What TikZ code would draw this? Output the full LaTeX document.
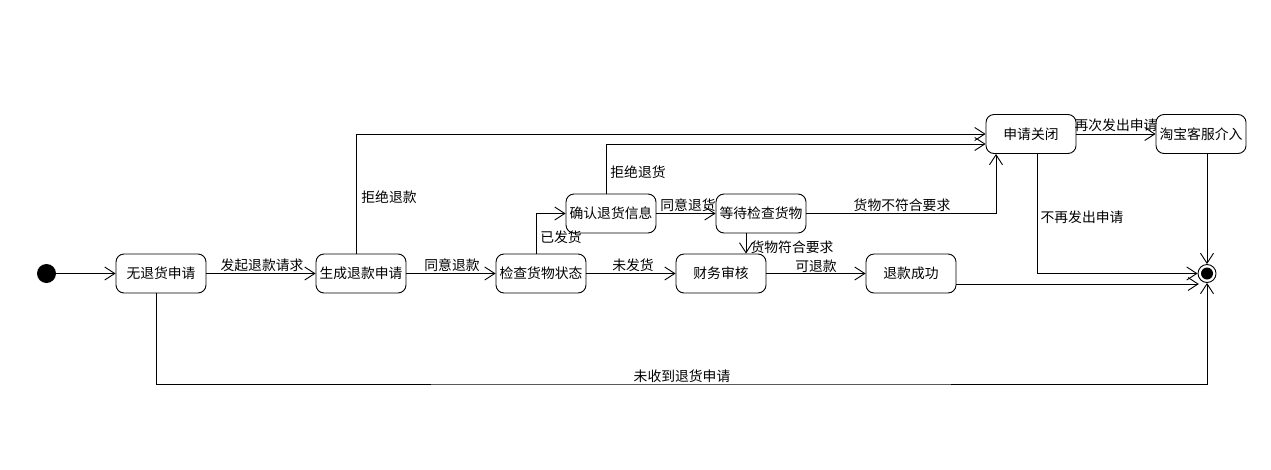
\documentclass[tikz,border=0pt]{standalone}
\usepackage{fontspec}
\setmainfont{Noto Sans CJK SC}
\usetikzlibrary{arrows.meta}
\begin{document}
\begin{tikzpicture}[x=1pt,y=-1pt,
  state/.style={draw, rounded corners=8pt, minimum width=90pt, minimum height=39pt, inner sep=0pt, font=\fontsize{13.8}{14}\selectfont, line width=0.9pt},
  lbl/.style={font=\fontsize{13.8}{14}\selectfont, inner sep=0pt},
  tr/.style={draw, line width=0.9pt, -{Straight Barb[length=10pt,width=13pt,line width=0.9pt]}}]
\useasboundingbox (0,0) rectangle (1271,469);
% states
\node[circle, fill, minimum size=19pt, inner sep=0pt] (init) at (46.5,273.5) {};
\node[state] (n1) at (161,273.5) {无退货申请};
\node[state] (n2) at (361,273.5) {生成退款申请};
\node[state] (n3) at (541,273.5) {检查货物状态};
\node[state] (n4) at (721,273.5) {财务审核};
\node[state] (n5) at (911,273.5) {退款成功};
\node[state] (n6) at (611,213.5) {确认退货信息};
\node[state] (n7) at (761,213.5) {等待检查货物};
\node[state] (n8) at (1031,134) {申请关闭};
\node[state] (n9) at (1201,134) {淘宝客服介入};
\node[circle, draw, fill=white, line width=0.9pt, minimum size=18pt, inner sep=0pt] (fin) at (1207,273.5) {};
\node[circle, fill, minimum size=12pt, inner sep=0pt] (finc) at (fin) {};
\coordinate (botc) at (700,384);
% transitions
\draw[tr] (init) -- (n1);
\draw[tr] (n1) -- (n2);
\draw[tr] (n2) -- (n3);
\draw[tr] (n3) -- (n4);
\draw[tr] (n4) -- (n5);
\draw[tr] ([xshift=-5pt]n3.north) |- (n6.west);
\draw[tr] (n6) -- (n7);
\draw[tr] ([xshift=-15pt]n7.south) -- ([xshift=-15pt]n7.south |- n4.north);
\draw[tr] (n7.east) -| ([xshift=-35pt]n8.south);
\draw[tr] ([xshift=-5pt]n6.north) |- ([yshift=-10pt]n8.west);
\draw[tr] ([xshift=-5pt]n2.north) |- (n8.west);
\draw[tr] (n8) -- (n9);
\draw[tr] ([xshift=6pt]n8.south) |- (fin.west);
\draw[tr] ([xshift=6pt]n9.south) -- (fin.north);
\draw[tr] ([yshift=-10.5pt]n5.east) -- ([yshift=-10.5pt]n5.east -| fin.-150);
\draw[tr] ([xshift=-5pt]n1.south) |- (botc) -| (fin.south);
% labels
\node[lbl] (l1) at (262,265) {发起退款请求};
\node[lbl] (l2) at (452,265) {同意退款};
\node[lbl] (l3) at (389,197) {拒绝退款};
\node[lbl] (l4) at (561,237) {已发货};
\node[lbl] (l5) at (638,172) {拒绝退货};
\node[lbl] (l6) at (688,205) {同意退货};
\node[lbl] (l7) at (633,265) {未发货};
\node[lbl] (l8) at (792,247) {货物符合要求};
\node[lbl] (l9) at (816,266) {可退款};
\node[lbl] (l10) at (902,205) {货物不符合要求};
\node[lbl] (l11) at (1116,125) {再次发出申请};
\node[lbl] (l12) at (1082,217) {不再发出申请};
\node[lbl] (l13) at (682,376) {未收到退货申请};
\end{tikzpicture}
\end{document}
